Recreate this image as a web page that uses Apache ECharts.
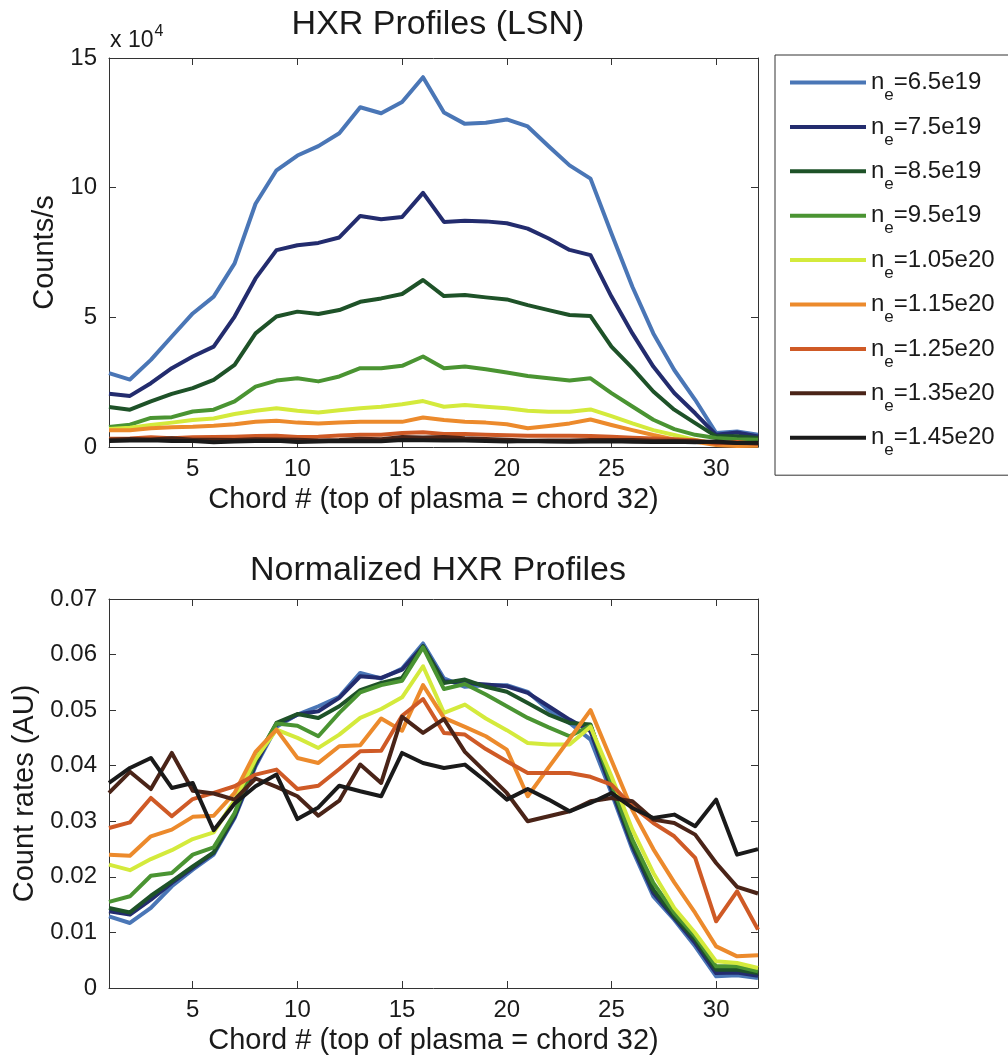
<!DOCTYPE html>
<html>
<head>
<meta charset="utf-8">
<script src="https://cdn.jsdelivr.net/npm/echarts@6/dist/echarts.min.js"></script>
<style>
html,body{margin:0;padding:0;background:#fff;}
#chart{width:1008px;height:1060px;}
</style>
</head>
<body>
<div id="chart"></div>
<script>
// ---------------- DATA ----------------
const chords = [1,2,3,4,5,6,7,8,9,10,11,12,13,14,15,16,17,18,19,20,21,22,23,24,25,26,27,28,29,30,31,32];
const densityLabels = ['6.5e19','7.5e19','8.5e19','9.5e19','1.05e20','1.15e20','1.25e20','1.35e20','1.45e20'];
const xTicks = [5,10,15,20,25,30];

// Top panel: counts/s in units of 1e4
const counts65  = [2.85,2.6,3.36,4.26,5.15,5.8,7.08,9.38,10.67,11.24,11.6,12.1,13.1,12.87,13.3,14.26,12.9,12.46,12.5,12.63,12.36,11.6,10.86,10.35,8.23,6.18,4.38,2.97,1.82,0.54,0.6,0.47];
const counts75  = [2.05,1.97,2.46,3.04,3.49,3.87,5.03,6.5,7.59,7.78,7.87,8.08,8.91,8.78,8.87,9.8,8.68,8.72,8.7,8.63,8.42,8.04,7.6,7.4,5.8,4.38,3.1,2.08,1.3,0.47,0.56,0.41];
const counts85  = [1.54,1.44,1.76,2.05,2.27,2.59,3.17,4.38,5.03,5.22,5.13,5.28,5.6,5.73,5.9,6.44,5.82,5.86,5.77,5.69,5.47,5.28,5.09,5.05,3.87,3.04,2.14,1.44,0.92,0.41,0.41,0.35];
const counts95  = [0.77,0.86,1.12,1.15,1.37,1.44,1.76,2.33,2.56,2.65,2.53,2.72,3.04,3.04,3.13,3.49,3.04,3.1,3.0,2.87,2.74,2.65,2.56,2.65,2.08,1.56,1.05,0.69,0.47,0.35,0.3,0.28];
const counts105 = [0.69,0.74,0.85,0.94,1.04,1.1,1.27,1.4,1.49,1.4,1.33,1.42,1.49,1.55,1.65,1.77,1.55,1.62,1.55,1.49,1.4,1.36,1.36,1.45,1.19,0.91,0.65,0.46,0.27,0.14,0.1,0.1];
const counts115 = [0.65,0.65,0.72,0.76,0.78,0.82,0.88,0.97,1.01,0.94,0.91,0.94,0.97,0.97,0.97,1.14,1.04,0.97,0.94,0.88,0.72,0.81,0.91,1.06,0.85,0.65,0.46,0.29,0.2,0.08,0.04,0.05];
const counts125 = [0.32,0.33,0.38,0.34,0.38,0.39,0.40,0.42,0.43,0.39,0.40,0.44,0.47,0.47,0.54,0.57,0.50,0.50,0.47,0.45,0.43,0.43,0.43,0.42,0.40,0.36,0.33,0.30,0.26,0.13,0.19,0.12];
const counts135 = [0.28,0.31,0.29,0.34,0.28,0.28,0.27,0.30,0.29,0.28,0.25,0.27,0.32,0.30,0.39,0.37,0.39,0.34,0.31,0.28,0.24,0.25,0.25,0.27,0.27,0.27,0.24,0.24,0.22,0.18,0.15,0.14];
const counts145 = [0.23,0.25,0.26,0.23,0.23,0.18,0.21,0.23,0.24,0.19,0.21,0.23,0.22,0.22,0.27,0.26,0.25,0.25,0.23,0.21,0.23,0.21,0.20,0.21,0.22,0.20,0.19,0.20,0.18,0.21,0.15,0.16];

// Bottom panel: normalized count rates (AU)
const norm65  = [0.0129,0.0117,0.0144,0.0183,0.0213,0.024,0.0306,0.0399,0.047,0.0492,0.0507,0.0524,0.0567,0.0557,0.0575,0.062,0.0557,0.0542,0.0545,0.0545,0.0533,0.05,0.0477,0.0447,0.0351,0.0249,0.0165,0.0123,0.0075,0.0021,0.0023,0.0018];
const norm75  = [0.0138,0.0132,0.0159,0.0189,0.0216,0.0243,0.0308,0.0402,0.0474,0.0492,0.0498,0.0522,0.0561,0.0558,0.0573,0.0615,0.0552,0.0549,0.0546,0.0543,0.0531,0.0507,0.0483,0.0462,0.0357,0.0255,0.0171,0.0126,0.0081,0.0027,0.0028,0.0022];
const norm85  = [0.0144,0.0136,0.0166,0.0192,0.0219,0.0244,0.0312,0.0408,0.0477,0.0493,0.0486,0.0507,0.0536,0.0549,0.0558,0.0615,0.0549,0.0555,0.0542,0.0533,0.0513,0.0492,0.0477,0.0474,0.0363,0.0261,0.0177,0.0129,0.0087,0.0033,0.0033,0.0027];
const norm95  = [0.0155,0.0165,0.0202,0.0207,0.024,0.0253,0.0315,0.0411,0.0476,0.0472,0.0453,0.0495,0.0532,0.0545,0.0553,0.0613,0.0538,0.0547,0.0528,0.0507,0.0486,0.0469,0.0453,0.0472,0.0369,0.0267,0.0189,0.0135,0.0093,0.0039,0.0039,0.003];
const norm105 = [0.0222,0.0212,0.0232,0.0248,0.0268,0.028,0.0338,0.0412,0.0465,0.045,0.0432,0.0456,0.0486,0.0502,0.0523,0.0579,0.0495,0.051,0.0485,0.0464,0.0441,0.0438,0.0438,0.047,0.0381,0.0285,0.0207,0.0144,0.0099,0.0048,0.0045,0.0036];
const norm115 = [0.024,0.0238,0.0273,0.0285,0.0308,0.031,0.0351,0.0425,0.0465,0.0414,0.0405,0.0435,0.0437,0.0485,0.0463,0.0545,0.0486,0.047,0.0453,0.0429,0.0345,0.0397,0.0448,0.05,0.041,0.032,0.025,0.019,0.0135,0.0075,0.0057,0.0059];
const norm125 = [0.0288,0.0298,0.0342,0.0309,0.034,0.0351,0.0363,0.0384,0.0393,0.0358,0.0364,0.0394,0.0426,0.0427,0.049,0.052,0.0459,0.0456,0.043,0.0408,0.0387,0.0387,0.0387,0.038,0.0366,0.0327,0.0297,0.0273,0.0234,0.012,0.0174,0.0105];
const norm135 = [0.0351,0.0389,0.0358,0.0423,0.0355,0.035,0.0339,0.0377,0.0362,0.0345,0.031,0.0337,0.0402,0.0369,0.0488,0.0459,0.0484,0.0425,0.0388,0.0351,0.03,0.0309,0.0318,0.0336,0.0342,0.0336,0.0303,0.0297,0.0276,0.0225,0.0182,0.017];
const norm145 = [0.0369,0.0396,0.0414,0.036,0.0369,0.0284,0.0332,0.0363,0.0384,0.0304,0.0325,0.0364,0.0354,0.0345,0.0423,0.0405,0.0396,0.0402,0.0372,0.0339,0.0358,0.0339,0.0318,0.0333,0.0351,0.0324,0.0306,0.0312,0.0291,0.0339,0.024,0.025];

const countsSeries = [counts65,counts75,counts85,counts95,counts105,counts115,counts125,counts135,counts145];
const normSeries = [norm65,norm75,norm85,norm95,norm105,norm115,norm125,norm135,norm145];

// ---------------- STYLE ----------------
const colors = ['#4a76b6','#232c6e','#1e5228','#4a9432','#d4ea3c','#ec8a2c','#cf5a26','#4a2418','#1a1a1a'];
const FONT = '"Liberation Sans", Arial, Helvetica, sans-serif';
const TXT = '#1a1a1a';
const AXC = '#333';

const chart = echarts.init(document.getElementById('chart'), null, {renderer:'canvas'});

const names = densityLabels.map(d => 'ne=' + d);

function xAxisPair(gi) {
  return [
    {
      type:'value', gridIndex:gi, position:'bottom', min:1, max:32,
      axisLine:{show:true, onZero:false, lineStyle:{color:AXC, width:1}},
      axisTick:{show:true, inside:true, length:7, customValues:xTicks, lineStyle:{color:AXC}},
      axisLabel:{show:true, customValues:xTicks, fontSize:24, color:TXT, fontFamily:FONT, margin:10},
      splitLine:{show:false},
      name:'Chord # (top of plasma = chord 32)', nameLocation:'middle', nameGap:38,
      nameTextStyle:{fontSize:29, color:TXT, fontFamily:FONT}
    },
    {
      type:'value', gridIndex:gi, position:'top', min:1, max:32,
      axisLine:{show:true, onZero:false, lineStyle:{color:AXC, width:1}},
      axisTick:{show:true, inside:true, length:7, customValues:xTicks, lineStyle:{color:AXC}},
      axisLabel:{show:false, customValues:xTicks},
      splitLine:{show:false}
    }
  ];
}
function yAxisPair(gi, max, interval, name, gap, fmt) {
  return [
    {
      type:'value', gridIndex:gi, position:'left', min:0, max:max, interval:interval,
      axisLine:{show:true, onZero:false, lineStyle:{color:AXC, width:1}},
      axisTick:{show:true, inside:true, length:7, lineStyle:{color:AXC}},
      axisLabel:{show:true, fontSize:24, color:TXT, fontFamily:FONT, margin:12, formatter:fmt},
      splitLine:{show:false},
      name:name, nameLocation:'middle', nameGap:gap, nameRotate:90,
      nameTextStyle:{fontSize:29, color:TXT, fontFamily:FONT}
    },
    {
      type:'value', gridIndex:gi, position:'right', min:0, max:max, interval:interval,
      axisLine:{show:true, onZero:false, lineStyle:{color:AXC, width:1}},
      axisTick:{show:true, inside:true, length:7, lineStyle:{color:AXC}},
      axisLabel:{show:false},
      splitLine:{show:false}
    }
  ];
}

const series = [];
countsSeries.forEach((arr, k) => {
  series.push({
    name:names[k], type:'line', xAxisIndex:0, yAxisIndex:0,
    data:chords.map((c,i)=>[c, arr[i]]),
    showSymbol:false, symbol:'none', silent:true,
    lineStyle:{color:colors[k], width:4, join:'round'}, itemStyle:{color:colors[k]},
    z:2+k
  });
});
normSeries.forEach((arr, k) => {
  series.push({
    name:names[k], type:'line', xAxisIndex:2, yAxisIndex:2,
    data:chords.map((c,i)=>[c, arr[i]]),
    showSymbol:false, symbol:'none', silent:true,
    lineStyle:{color:colors[k], width:4, join:'round'}, itemStyle:{color:colors[k]},
    z:2+k
  });
});

const option = {
  animation:false,
  backgroundColor:'#fff',
  textStyle:{fontFamily:FONT},
  title:[
    {text:'HXR Profiles (LSN)', left:433, top:3, textAlign:'center',
     textStyle:{fontSize:34, fontWeight:'normal', color:TXT, fontFamily:FONT}},
    {text:'Normalized HXR Profiles', left:433, top:549, textAlign:'center',
     textStyle:{fontSize:34, fontWeight:'normal', color:TXT, fontFamily:FONT}}
  ],
  grid:[
    {left:109, top:58, width:649, height:389},
    {left:109, top:599, width:649, height:389}
  ],
  xAxis:[...xAxisPair(0), ...xAxisPair(1)],
  yAxis:[
    ...yAxisPair(0, 15, 5, 'Counts/s', 44, v=>String(v)),
    ...yAxisPair(1, 0.07, 0.01, 'Count rates (AU)', 68, v=> v===0 ? '0' : v.toFixed(2))
  ],
  legend:{
    show:true, orient:'vertical', left:775, top:55,
    padding:[6,16,16,15], itemGap:1.4,
    borderColor:'#333', borderWidth:1, backgroundColor:'#fff',
    icon:'rect', itemWidth:76, itemHeight:4,
    data:names,
    selectedMode:false,
    formatter: n => '{n|n}{e|e}{t|' + n.slice(2) + '}',
    textStyle:{
      color:TXT, fontFamily:FONT, fontSize:24,
      rich:{
        n:{fontSize:24, lineHeight:26, color:TXT, fontFamily:FONT},
        e:{fontSize:17, lineHeight:18, padding:[26,0,0,0], color:TXT, fontFamily:FONT},
        t:{fontSize:24, lineHeight:26, color:TXT, fontFamily:FONT}
      }
    }
  },
  graphic:[
    {type:'text', left:110, top:24, silent:true,
     style:{text:'{a|x 10}{b|4}', fill:TXT,
       rich:{a:{fontSize:23, fontFamily:FONT, fill:TXT, padding:[9,0,0,0]},
             b:{fontSize:16, fontFamily:FONT, fill:TXT, padding:[0,0,9,1]}}}}
  ],
  series:series
};
chart.setOption(option);
</script>
</body>
</html>
